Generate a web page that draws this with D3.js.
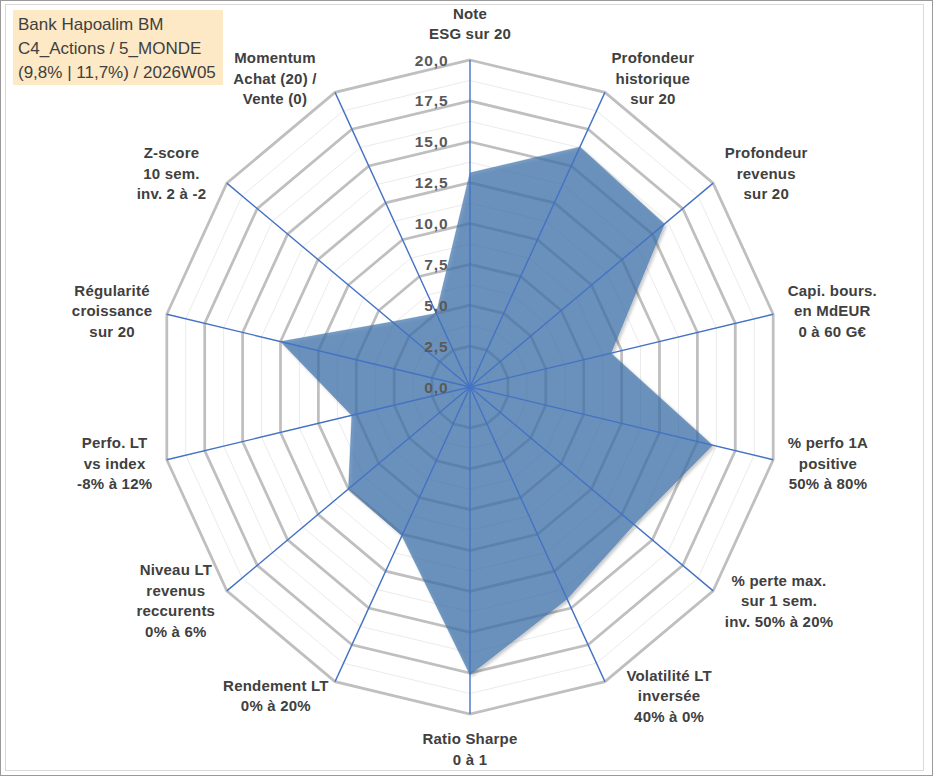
<!DOCTYPE html>
<html lang="fr">
<head>
  <meta charset="UTF-8" />
  <title>Radar Bank Hapoalim BM</title>
  <script src="https://d3js.org/d3.v7.min.js"></script>
  <style>
    html, body {
      margin: 0;
      padding: 0;
      background: #fff;
      font-family: "Liberation Sans", Arial, sans-serif;
    }
    svg { display: block; }
  </style>
</head>
<body>
  <svg id="chart" width="933" height="776"></svg>

  <script>
    // axis labels, clockwise from the top
    const axisLabels = [
      ["Note", "ESG sur 20"],
      ["Profondeur", "historique", "sur 20"],
      ["Profondeur", "revenus", "sur 20"],
      ["Capi. bours.", "en MdEUR", "0 à 60 G€"],
      ["% perfo 1A", "positive", "50% à 80%"],
      ["% perte max.", "sur 1 sem.", "inv. 50% à 20%"],
      ["Volatilité LT", "inversée", "40% à 0%"],
      ["Ratio Sharpe", "0 à 1"],
      ["Rendement LT", "0% à 20%"],
      ["Niveau LT", "revenus", "reccurents", "0% à 6%"],
      ["Perfo. LT", "vs index", "-8% à 12%"],
      ["Régularité", "croissance", "sur 20"],
      ["Z-score", "10 sem.", "inv. 2 à -2"],
      ["Momentum", "Achat (20) /", "Vente (0)"]
    ];
    const scores = [13.1, 16.3, 16.0, 9.3, 16.0, 13.5, 14.4, 17.6, 10.1, 10.0, 7.8, 12.5, 6.4, 5.0];
    const majorTicks = [0, 2.5, 5, 7.5, 10, 12.5, 15, 17.5, 20];
    const minorTicks = [1.25, 3.75, 6.25, 8.75, 11.25, 13.75, 16.25, 18.75];
    const titleLines = ["Bank Hapoalim BM", "C4_Actions / 5_MONDE", "(9,8% | 11,7%) / 2026W05"];

    const svg = d3.select("#chart");
    const W = 933, H = 776;
    const cx = 470, cy = 387;
    const rx = 311, ry = 327; // picture is a bit squeezed horizontally
    const n = axisLabels.length;

    const r = d3.scaleLinear().domain([0, 20]).range([0, 1]);
    const angle = d3.scaleLinear().domain([0, n]).range([0, 2 * Math.PI]);
    const fr = d3.formatLocale({ decimal: ",", thousands: " ", grouping: [3], currency: ["", "€"] }).format(".1f");

    const px = (i, v) => cx + rx * r(v) * Math.sin(angle(i));
    const py = (i, v) => cy - ry * r(v) * Math.cos(angle(i));
    const ringPoints = v => d3.range(n).map(i => [px(i, v), py(i, v)]);
    const line = d3.line().curve(d3.curveLinearClosed);

    // frames
    svg.append("rect").attr("x", 0.5).attr("y", 0.5).attr("width", W - 1).attr("height", H - 1)
      .attr("fill", "#fff").attr("stroke", "#9a9a9a");
    svg.append("rect").attr("x", 5.5).attr("y", 4.5).attr("width", 918).attr("height", 766)
      .attr("fill", "none").attr("stroke", "#d9d9d9");

    const defs = svg.append("defs");
    const filter = defs.append("filter").attr("id", "shadow")
      .attr("x", "-10%").attr("y", "-10%").attr("width", "120%").attr("height", "120%");
    filter.append("feDropShadow").attr("dx", 2).attr("dy", 2).attr("stdDeviation", 1.8)
      .attr("flood-color", "#000").attr("flood-opacity", 0.3);

    // grid rings
    svg.append("g").selectAll("path").data(minorTicks).join("path")
      .attr("d", v => line(ringPoints(v)))
      .attr("fill", "none").attr("stroke", "#ebebeb").attr("stroke-width", 1);
    svg.append("g").selectAll("path").data(majorTicks.filter(v => v > 0)).join("path")
      .attr("d", v => line(ringPoints(v)))
      .attr("fill", "none").attr("stroke", "#bfbfbf").attr("stroke-width", 2.75)
      .attr("stroke-linejoin", "miter");

    // series
    svg.append("path")
      .attr("d", line(scores.map((v, i) => [px(i, v), py(i, v)])))
      .attr("fill", "#3f74ac").attr("fill-opacity", 0.7)
      .attr("stroke", "#3f74ac").attr("stroke-opacity", 0.35).attr("stroke-width", 0.8)
      .attr("filter", "url(#shadow)");

    // spokes
    svg.append("g").selectAll("line").data(d3.range(n)).join("line")
      .attr("x1", cx).attr("y1", cy)
      .attr("x2", i => px(i, 20)).attr("y2", i => py(i, 20))
      .attr("stroke", "#4472c4").attr("stroke-width", 1.4);

    // tick labels along the top spoke
    svg.append("g").selectAll("text").data(majorTicks).join("text")
      .attr("x", cx - 21.5).attr("y", v => py(0, v)).attr("dy", "0.36em")
      .attr("text-anchor", "end")
      .attr("font-size", 15.5).attr("font-weight", "bold").attr("letter-spacing", 0.9)
      .attr("fill", "#595959")
      .text(v => fr(v));

    // category labels (Excel pushes a few of them further out)
    const lh = 20.5;
    const labelShift = { 6: 15, 12: -9, 13: -12 };
    const labelG = svg.append("g");
    axisLabels.forEach((lines, i) => {
      const a = angle(i), s = Math.sin(a), c = Math.cos(a);
      const ax = cx + 1.048 * rx * s, ay = cy - 1.048 * ry * c;
      const g = labelG.append("g");
      const texts = g.selectAll("text").data(lines).join("text")
        .attr("text-anchor", "middle").attr("dy", "0.36em")
        .attr("font-size", 15).attr("font-weight", "bold").attr("letter-spacing", 0.2)
        .attr("fill", "#404040")
        .text(d => d);
      const w = d3.max(texts.nodes(), t => t.getComputedTextLength());
      let x, y0;
      if (Math.abs(s) < 0.01) {
        x = ax;
        y0 = c > 0 ? ay - 10.5 - (lines.length - 1) * lh : ay + 9;
      } else {
        x = ax + Math.sign(s) * w / 2 + (labelShift[i] || 0);
        y0 = ay - (lines.length - 1) * lh / 2;
      }
      texts.attr("x", x).attr("y", (d, j) => y0 + j * lh);
    });

    // title box
    const tg = svg.append("g");
    tg.append("rect").attr("x", 13).attr("y", 10).attr("width", 210).attr("height", 75)
      .attr("fill", "#fde9c6");
    tg.selectAll("text").data(titleLines).join("text")
      .attr("x", 18).attr("y", (d, j) => 24 + j * 24).attr("dy", "0.36em")
      .attr("font-size", 17).attr("fill", "#404040")
      .text(d => d);
  </script>
</body>
</html>
